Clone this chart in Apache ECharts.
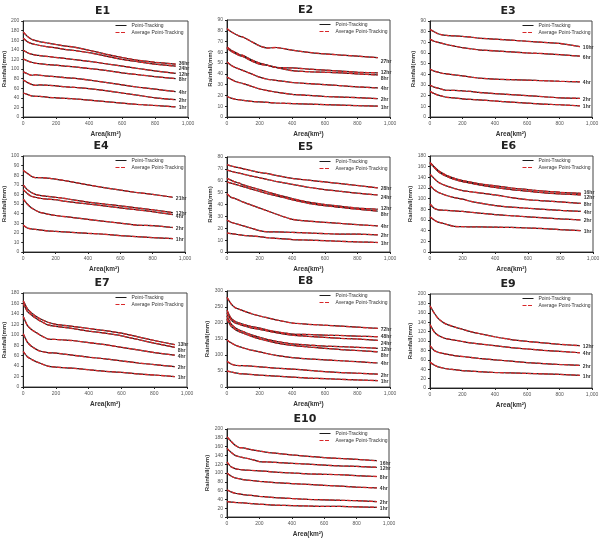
<!DOCTYPE html>
<html>
<head>
<meta charset="utf-8">
<script src="https://cdn.jsdelivr.net/npm/echarts@6/dist/echarts.min.js"></script>
<style>
html,body{margin:0;padding:0;background:#fff;}
#js-events{width:604px;height:539px;}
</style>
</head>
<body>
<div id="js-events"></div>
<script>
// area (km2) where each curve was read
var AREA = [0, 25, 50, 75, 100, 150, 200, 250, 300, 400, 500, 600, 700, 800, 925];

var e1Durations = ['36hr', '24hr', '12hr', '8hr', '4hr', '2hr', '1hr'];
var e1Rain = [
	[177, 168, 162, 159, 157, 154, 151, 148, 146, 139, 131, 124, 118, 114, 110],
	[164, 157, 153, 151, 149, 146, 144, 141, 139, 134, 127, 120, 115, 110, 106],
	[139, 134, 131, 129, 128, 126, 124, 122, 120, 116, 111, 106, 101, 96, 91],
	[121, 117, 114, 112, 111, 109, 108, 106, 105, 101, 97, 92, 88, 84, 80],
	[94, 90, 87, 88, 87, 85, 84, 82, 81, 77, 72, 67, 62, 58, 53],
	[77, 72, 68, 66, 67, 66, 65, 63, 62, 59, 55, 50, 45, 40, 36],
	[50, 47, 44, 43, 43, 41, 40, 39, 38, 35, 32, 29, 26, 24, 21]
];

var e2Durations = ['27hr', '12hr', '8hr', '4hr', '2hr', '1hr'];
var e2Rain = [
	[82, 79, 77, 75, 74, 70, 66, 64, 64.5, 62, 60, 58.5, 57.5, 56.5, 55],
	[65, 62, 60, 58, 57, 53, 50, 48, 46, 45.5, 44.5, 43.5, 42.5, 41.5, 41],
	[64, 61, 59, 57, 56, 52, 49, 48, 46, 43, 42, 41.5, 41, 40, 39],
	[51, 48, 46, 44.5, 43, 40, 37, 35, 34, 32, 31, 30, 29, 28, 27],
	[37, 35, 33, 32, 31, 28.5, 26, 24.5, 23, 21, 20, 19, 18.5, 18, 17],
	[19, 17.5, 16.5, 16, 15.5, 14.5, 14, 13.5, 13, 12.5, 12, 11.5, 11, 10.5, 10]
];

var e3Durations = ['10hr', '6hr', '4hr', '2hr', '1hr'];
var e3Rain = [
	[82, 80, 78, 77, 76.5, 76, 75.5, 75, 74, 73, 72, 71, 70, 69, 66],
	[73, 71, 70, 69, 68, 66.5, 65, 64, 63, 62, 61, 60, 59.5, 58.5, 57],
	[45, 43, 42, 41, 40.5, 39.5, 38.5, 37.5, 36.5, 35.5, 35, 34.5, 34, 33.5, 33],
	[30, 28, 27, 26, 25, 25, 24.5, 24, 23, 22, 21, 20, 19, 18, 17.5],
	[24, 22, 20.5, 19.5, 18.5, 18, 17, 16.5, 16, 15, 14, 13, 12, 11.5, 10.5]
];

var e4Durations = ['21hr', '12hr', '4hr', '2hr', '1hr'];
var e4Rain = [
	[85, 82, 79, 77.5, 77.5, 77, 76, 74.5, 73, 70, 67, 64.5, 62, 60, 57],
	[70, 65, 62, 60, 59, 58, 57, 56, 54.5, 52, 50, 48, 46, 44, 41],
	[65, 61, 58, 57, 56, 55, 54.5, 53, 52, 50, 48, 46, 44, 42, 39],
	[55, 50, 46, 43.5, 41.5, 39.5, 38, 37, 36, 34, 32, 30, 28, 27.5, 25.5],
	[28, 25, 24, 23.5, 23, 22, 21.5, 21, 20.5, 19.5, 18.5, 17, 16, 15, 14]
];

var e5Durations = ['28hr', '24hr', '12hr', '8hr', '4hr', '2hr', '1hr'];
var e5Rain = [
	[73.5, 72.5, 71.5, 71, 70, 68.5, 67, 66, 64.5, 62, 60.5, 59, 57.5, 56, 54],
	[69, 68, 67, 66.5, 65.5, 64, 62.5, 61, 59.5, 57, 54.5, 52.5, 51, 49.5, 48],
	[62, 60.5, 59, 58, 56.5, 54.5, 52.5, 50.5, 48.5, 45, 42, 40, 38.5, 37, 36],
	[59, 58, 57, 56, 55, 53, 51, 49, 47.5, 44, 41, 39, 37.5, 36, 34.5],
	[49, 46, 45, 43.5, 42, 39.5, 37, 34.5, 32, 27.5, 26, 25, 24, 23, 22],
	[27, 25, 24, 23, 22, 20, 18, 17, 17, 16.5, 16, 15.5, 15, 15, 14.5],
	[16, 15.5, 15, 14.5, 14, 13.5, 13, 12, 11.5, 10.5, 10, 9.5, 9, 8.5, 8]
];

var e6Durations = ['16hr', '12hr', '8hr', '4hr', '2hr', '1hr'];
var e6Rain = [
	[168, 160, 153, 148, 144, 138, 134, 131, 128, 124, 120, 117, 114, 112, 110],
	[167, 159, 151, 146, 142, 136, 132, 129, 126, 121, 117, 114, 111, 109, 107],
	[146, 138, 131, 127, 124, 119, 115, 113, 111, 107, 102, 98, 96, 94, 91],
	[125, 117, 112, 109, 106, 102, 99, 95, 92, 87, 84, 82, 80, 78, 76],
	[90, 82, 79, 78.5, 78, 77, 76, 74.5, 73, 70, 68, 66, 64, 62, 60],
	[66, 60, 56, 54, 52, 48, 47.5, 47, 47, 46.5, 46, 45, 44, 42, 40]
];

var e7Durations = ['13hr', '8hr', '4hr', '2hr', '1hr'];
var e7Rain = [
	[165, 150, 142, 136, 131, 124, 120, 118, 116, 112, 108, 103, 96, 89, 81],
	[160, 145, 138, 132, 127, 119, 116, 114, 112, 107, 103, 98, 91, 84, 76],
	[135, 118, 110, 105, 100, 92, 91, 90, 89, 85, 81, 76, 71, 66, 61],
	[102, 86, 78, 73, 69, 66, 65, 63, 61, 57, 54, 50, 46, 43, 39],
	[68, 58, 53, 49, 46, 40, 38, 37, 36, 33, 30, 28, 25, 23, 20]
];

var e8Durations = ['72hr', '48hr', '24hr', '12hr', '8hr', '4hr', '2hr', '1hr'];
var e8Rain = [
	[280, 260, 248, 243, 238, 229, 222, 216, 210, 200, 196, 193, 190, 187, 183],
	[240, 215, 205, 200, 196, 189, 184, 178, 173, 165, 164, 162, 161, 159, 157],
	[232, 210, 200, 196, 192, 185, 180, 175, 170, 162, 158, 155, 152, 150, 146],
	[222, 197, 185, 178, 173, 163, 155, 148, 143, 135, 131, 128, 126, 124, 121],
	[212, 190, 180, 173, 168, 158, 150, 144, 138, 130, 125, 121, 117, 114, 110],
	[147, 138, 131, 126, 122, 115, 110, 104, 99, 92, 88, 85, 82, 79, 75],
	[80, 72, 68, 67, 67, 65, 63, 61, 59, 56, 52, 48, 45, 43, 40],
	[50, 47, 44, 42, 41, 39, 37, 35.5, 34, 31, 28, 26, 24, 22, 20]
];

var e9Durations = ['12hr', '4hr', '2hr', '1hr'];
var e9Rain = [
	[175, 160, 148, 141, 136, 130, 125, 120, 116, 109, 103, 99, 96, 93, 90],
	[135, 120, 112, 108, 105, 102, 99, 96, 94, 90, 86, 83, 80, 78, 75],
	[90, 80, 76, 74, 72, 69, 67, 65, 63, 60, 57, 54, 52, 50, 48],
	[55, 49, 45, 43, 41, 39, 37, 36, 35, 33, 32, 31, 30, 29, 27]
];

var e10Durations = ['16hr', '12hr', '8hr', '4hr', '2hr', '1hr'];
var e10Rain = [
	[182, 172, 163, 158, 157, 153, 150, 147, 145, 141, 138, 135, 133, 131, 128],
	[156, 147, 140, 137, 135, 131, 126, 125, 124, 122, 120, 118, 116, 115, 113],
	[125, 114, 110, 108, 107, 106, 105, 103.5, 102, 100, 98, 97, 96, 94, 92],
	[100, 93, 89, 87, 85, 83, 81, 79.5, 78, 76, 74, 72, 70, 68, 66],
	[62, 57, 54, 52.5, 51, 49, 47, 45.5, 44, 42, 40, 39, 38, 37, 35],
	[35, 34, 33, 32.5, 32, 30.5, 29, 28, 27, 26, 25, 24, 24, 23, 22]
];

// y axis max / step per event
var yMax = [200, 90, 90, 100, 80, 180, 180, 300, 200, 200];
var yStep = [20, 10, 10, 10, 10, 20, 20, 50, 20, 20];

initEventCharts();

function initEventCharts(){
	var chart = echarts.init(document.getElementById('js-events'));
	var panels = [
		{title: 'E1', dur: e1Durations, rain: e1Rain, box: [23, 21, 165, 96], shift: {'36hr': -2, '24hr': 2}},
		{title: 'E2', dur: e2Durations, rain: e2Rain, box: [227, 20, 163, 97], shift: {'27hr': 3, '12hr': -1, '8hr': 2.5}},
		{title: 'E3', dur: e3Durations, rain: e3Rain, box: [430, 21, 162, 96], shift: {}},
		{title: 'E4', dur: e4Durations, rain: e4Rain, box: [23, 156, 162, 96], shift: {'4hr': 1.5}},
		{title: 'E5', dur: e5Durations, rain: e5Rain, box: [227, 157, 163, 95], shift: {'24hr': 2, '12hr': -1.5, '8hr': 3}},
		{title: 'E6', dur: e6Durations, rain: e6Rain, box: [430, 156, 163, 96], shift: {'16hr': -2, '12hr': 1.5}},
		{title: 'E7', dur: e7Durations, rain: e7Rain, box: [23, 293, 164, 94], shift: {'13hr': -1, '8hr': 2}},
		{title: 'E8', dur: e8Durations, rain: e8Rain, box: [227, 291, 163, 96], shift: {'48hr': -1, '24hr': 2, '8hr': 2.5}},
		{title: 'E9', dur: e9Durations, rain: e9Rain, box: [430, 294, 162, 94], shift: {}},
		{title: 'E10', dur: e10Durations, rain: e10Rain, box: [227, 429, 162, 96], shift: {'16hr': 2}}
	];
	var font = 'Liberation Sans';
	var option = {
		animation: false,
		backgroundColor: '#fff',
		textStyle: {fontFamily: font},
		title: [], legend: [], grid: [], xAxis: [], yAxis: [], series: []
	};

	panels.forEach(function(p, i){
		var b = p.box;
		option.title.push({
			text: p.title,
			left: b[0] + b[2] / 2 - 3,
			top: b[1] - 15,
			padding: 0,
			textAlign: 'center',
			textStyle: {fontSize: 11, fontWeight: 'bold', color: '#222', fontFamily: 'DejaVu Sans'}
		});
		option.grid.push({
			left: b[0], top: b[1], width: b[2], height: b[3],
			show: true, borderColor: '#444', borderWidth: 1
		});
		option.legend.push({
			data: ['Point-Tracking', 'Average Point-Tracking'],
			orient: 'vertical',
			left: b[0] + 92, top: b[1] + 2,
			padding: 0,
			itemWidth: 11, itemHeight: 5, itemGap: 2,
			selectedMode: false,
			itemStyle: {opacity: 0},
			lineStyle: {width: 1},
			textStyle: {fontSize: 5, color: '#333'}
		});
		option.xAxis.push({
			type: 'value', gridIndex: i, min: 0, max: 1000, interval: 200,
			name: 'Area(km²)', nameLocation: 'middle', nameGap: 14,
			nameTextStyle: {fontSize: 6.5, fontWeight: 'bold', color: '#333'},
			axisLine: {lineStyle: {color: '#222'}},
			axisTick: {length: 2, lineStyle: {color: '#222'}},
			axisLabel: {fontSize: 5, color: '#555', margin: 4},
			splitLine: {show: false}
		});
		option.yAxis.push({
			type: 'value', gridIndex: i, min: 0, max: yMax[i], interval: yStep[i],
			name: 'Rainfall(mm)', nameLocation: 'middle', nameGap: 14, nameRotate: 90,
			nameTextStyle: {fontSize: 6, fontWeight: 'bold', color: '#333'},
			axisLine: {show: true, lineStyle: {color: '#222'}},
			axisTick: {show: true, length: 2, lineStyle: {color: '#222'}},
			axisLabel: {fontSize: 5, color: '#555', margin: 4},
			splitLine: {show: false}
		});

		p.dur.forEach(function(d, k){
			var pts = AREA.map(function(a, j){ return [a, p.rain[k][j]]; });
			option.series.push({
				name: 'Point-Tracking', type: 'line',
				xAxisIndex: i, yAxisIndex: i,
				data: pts, symbol: 'none', smooth: 0.2,
				lineStyle: {color: '#1c1c1c', width: 1.2},
				itemStyle: {color: '#1c1c1c'}
			});
			option.series.push({
				name: 'Average Point-Tracking', type: 'line',
				xAxisIndex: i, yAxisIndex: i,
				data: pts, symbol: 'none', smooth: 0.2, z: 3,
				lineStyle: {color: '#d8282a', width: 1.3, type: [4, 1.5]},
				itemStyle: {color: '#d8282a'},
				endLabel: {
					show: true, distance: 3,
					offset: [0, 1 + (p.shift[d] || 0)],
					formatter: d,
					fontSize: 5, fontWeight: 'bold', color: '#333'
				}
			});
		});
	});

	chart.setOption(option);
}
</script>
</body>
</html>
